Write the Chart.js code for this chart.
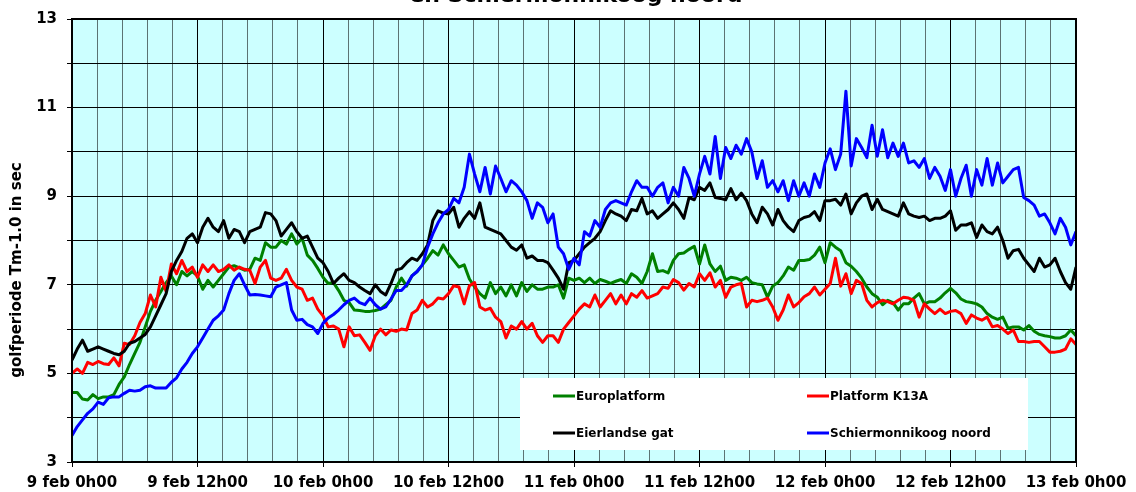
<!DOCTYPE html>
<html><head><meta charset="utf-8">
<script src="https://cdn.jsdelivr.net/npm/chart.js@4"></script>
<style>html,body{margin:0;padding:0;background:#fff;}canvas{display:block;}</style>
</head><body>
<canvas id="c" width="1136" height="492"></canvas>
<script>
// ---- data (half-hourly samples starting 9 feb 0h00) ----
const stepHours = 0.5;
const xTickLabels = ['9 feb 0h00','9 feb 12h00','10 feb 0h00','10 feb 12h00','11 feb 0h00','11 feb 12h00','12 feb 0h00','12 feb 12h00','13 feb 0h00'];
const yTickValues = [3,5,7,9,11,13];
const seriesNames = ['Europlatform','Platform K13A','Eierlandse gat','Schiermonnikoog noord'];
const seriesColors = ['#008000','#ff0000','#000000','#0000ff'];
const titleText = 'en Schiermonnikoog noord';
const yAxisTitle = 'golfperiode Tm-1.0 in sec';

const europlatform = [
 4.57,4.57,4.42,4.40,4.52,4.43,4.47,4.47,4.52,4.75,
 4.92,5.20,5.45,5.70,6.05,6.40,6.65,6.85,7.05,7.20,
 7.00,7.30,7.20,7.30,7.20,6.90,7.10,6.95,7.10,7.25,
 7.40,7.43,7.38,7.33,7.35,7.60,7.55,7.95,7.85,7.85,
 8.00,7.92,8.15,7.92,8.05,7.67,7.55,7.37,7.17,7.03,
 7.05,6.87,6.65,6.60,6.43,6.42,6.40,6.40,6.42,6.45,
 6.55,6.65,6.95,7.15,6.97,7.20,7.30,7.45,7.60,7.77,
 7.67,7.90,7.70,7.55,7.40,7.45,7.13,6.95,6.80,6.70,
 7.05,6.80,6.95,6.75,7.00,6.75,7.05,6.85,7.00,6.90,
 6.90,6.95,6.95,7.00,6.70,7.15,7.10,7.15,7.05,7.15,
 7.03,7.12,7.08,7.03,7.08,7.12,7.03,7.25,7.17,7.03,
 7.30,7.70,7.30,7.32,7.27,7.55,7.70,7.72,7.80,7.87,
 7.47,7.90,7.47,7.30,7.42,7.10,7.17,7.15,7.10,7.17,
 7.05,7.02,7.00,6.72,6.97,7.05,7.20,7.40,7.33,7.55,
 7.55,7.57,7.67,7.85,7.50,7.95,7.85,7.77,7.50,7.42,
 7.30,7.15,6.95,6.80,6.72,6.55,6.65,6.60,6.43,6.57,
 6.57,6.70,6.80,6.57,6.62,6.62,6.70,6.82,6.92,6.82,
 6.68,6.62,6.60,6.57,6.50,6.35,6.27,6.22,6.27,6.02,
 6.05,6.05,5.98,6.08,5.95,5.88,5.85,5.83,5.80,5.80,
 5.85,5.98,5.85];
const k13a = [
 5.00,5.10,5.00,5.25,5.20,5.27,5.22,5.20,5.35,5.17,
 5.68,5.65,5.85,6.15,6.35,6.77,6.50,7.17,6.85,7.47,
 7.25,7.55,7.30,7.40,7.17,7.45,7.30,7.45,7.30,7.35,
 7.45,7.33,7.40,7.35,7.33,7.03,7.40,7.55,7.15,7.10,
 7.15,7.35,7.10,6.95,6.90,6.65,6.70,6.45,6.30,6.05,
 6.07,6.00,5.60,6.05,5.85,5.87,5.70,5.52,5.85,6.00,
 5.87,5.98,5.95,6.00,5.98,6.35,6.43,6.65,6.50,6.57,
 6.70,6.68,6.80,6.98,6.95,6.57,6.98,7.05,6.50,6.43,
 6.47,6.27,6.17,5.80,6.07,6.00,6.17,6.00,6.13,5.85,
 5.70,5.85,5.85,5.70,6.00,6.15,6.30,6.45,6.57,6.50,
 6.77,6.50,6.65,6.80,6.57,6.77,6.57,6.80,6.72,6.87,
 6.70,6.75,6.80,6.95,6.92,7.12,7.05,6.88,7.03,6.95,
 7.25,7.10,7.27,6.95,7.10,6.72,6.95,7.00,7.03,6.50,
 6.65,6.62,6.65,6.70,6.50,6.20,6.43,6.77,6.50,6.60,
 6.73,6.80,6.95,6.77,6.90,7.03,7.60,6.97,7.25,6.80,
 7.10,7.03,6.65,6.50,6.60,6.65,6.62,6.57,6.65,6.72,
 6.70,6.65,6.27,6.57,6.45,6.35,6.45,6.35,6.40,6.42,
 6.35,6.13,6.32,6.25,6.20,6.27,6.05,6.08,6.00,5.90,
 5.98,5.72,5.72,5.70,5.72,5.72,5.60,5.48,5.48,5.50,
 5.55,5.78,5.65];
const eierlandseGat = [
 5.30,5.55,5.75,5.50,5.55,5.60,5.55,5.50,5.45,5.42,
 5.50,5.68,5.72,5.80,5.88,6.05,6.30,6.55,6.80,7.30,
 7.55,7.75,8.05,8.15,7.95,8.30,8.50,8.30,8.20,8.45,
 8.05,8.25,8.20,7.95,8.20,8.25,8.30,8.63,8.60,8.45,
 8.10,8.25,8.40,8.20,8.05,8.10,7.85,7.60,7.50,7.30,
 7.03,7.15,7.25,7.10,7.05,6.95,6.87,6.80,7.00,6.85,
 6.77,7.03,7.33,7.37,7.50,7.60,7.55,7.70,7.90,8.45,
 8.67,8.62,8.60,8.75,8.30,8.50,8.65,8.50,8.85,8.30,
 8.25,8.20,8.15,8.00,7.85,7.78,7.90,7.60,7.65,7.55,
 7.55,7.50,7.33,7.15,6.90,7.50,7.55,7.70,7.85,7.95,
 8.05,8.20,8.45,8.67,8.60,8.55,8.45,8.70,8.67,8.95,
 8.60,8.67,8.50,8.60,8.70,8.85,8.70,8.50,8.97,8.92,
 9.20,9.13,9.30,8.97,8.95,8.92,9.17,8.92,9.07,8.90,
 8.60,8.40,8.75,8.60,8.35,8.70,8.45,8.30,8.20,8.45,
 8.52,8.55,8.65,8.45,8.90,8.90,8.93,8.80,9.05,8.60,
 8.85,9.00,9.05,8.70,8.93,8.70,8.65,8.60,8.55,8.85,
 8.60,8.55,8.52,8.55,8.45,8.50,8.50,8.55,8.67,8.23,
 8.35,8.35,8.40,8.07,8.35,8.20,8.15,8.30,8.00,7.60,
 7.77,7.80,7.60,7.45,7.30,7.60,7.40,7.45,7.60,7.30,
 7.05,6.90,7.40];
const schiermonnikoog = [
 3.60,3.80,3.95,4.10,4.20,4.35,4.30,4.45,4.47,4.47,
 4.55,4.62,4.60,4.62,4.70,4.72,4.67,4.67,4.67,4.80,
 4.90,5.10,5.25,5.45,5.60,5.80,6.00,6.20,6.30,6.43,
 6.80,7.10,7.25,7.00,6.77,6.78,6.77,6.75,6.73,6.95,
 7.00,7.05,6.43,6.20,6.22,6.10,6.05,5.90,6.13,6.25,
 6.33,6.43,6.55,6.65,6.70,6.60,6.55,6.70,6.55,6.45,
 6.50,6.68,6.87,6.87,7.00,7.20,7.30,7.45,7.85,8.15,
 8.40,8.60,8.70,8.95,8.85,9.20,9.95,9.50,9.10,9.65,
 9.05,9.68,9.40,9.10,9.35,9.25,9.10,8.90,8.50,8.85,
 8.75,8.40,8.60,7.85,7.70,7.35,7.60,7.45,8.20,8.10,
 8.45,8.30,8.70,8.85,8.90,8.85,8.80,9.10,9.35,9.20,
 9.20,9.00,9.20,9.30,8.85,9.20,9.00,9.65,9.40,9.00,
 9.50,9.90,9.50,10.35,9.40,10.10,9.85,10.15,9.95,10.30,
 10.00,9.40,9.80,9.20,9.35,9.10,9.35,8.90,9.35,9.00,
 9.30,9.00,9.50,9.20,9.75,10.07,9.60,9.95,11.37,9.68,
 10.30,10.10,9.87,10.60,9.90,10.50,9.87,10.20,9.90,10.20,
 9.75,9.80,9.65,9.85,9.40,9.65,9.45,9.13,9.60,9.00,
 9.40,9.70,9.00,9.60,9.25,9.85,9.25,9.75,9.30,9.45,
 9.60,9.65,8.97,8.90,8.80,8.55,8.60,8.40,8.15,8.50,
 8.30,7.90,8.20];

const seriesData = [europlatform, k13a, eierlandseGat, schiermonnikoog];
const toPoints = arr => arr.map((v, i) => ({x: i * stepHours, y: v}));
const FONT = '"DejaVu Sans", Verdana, sans-serif';
const hoursMax = 96;
const minorStep = 2.4, majorStep = 12;
const isMajor = v => Math.abs(v / majorStep - Math.round(v / majorStep)) < 1e-6;

const decor = {
  id: 'decor',
  beforeDraw(chart) {
    const {ctx, chartArea: a} = chart;
    ctx.save();
    ctx.fillStyle = '#ccffff';
    ctx.fillRect(a.left, a.top, a.right - a.left, a.bottom - a.top);
    ctx.restore();
  },
  afterDatasetsDraw(chart) {
    const {ctx, chartArea: a} = chart;
    ctx.save();
    ctx.strokeStyle = '#000';
    ctx.lineWidth = 2;
    ctx.strokeRect(a.left, a.top, a.right - a.left, a.bottom - a.top);
    // legend box
    const bx = 520, by = 378, bw = 508, bh = 72;
    ctx.fillStyle = '#ffffff';
    ctx.fillRect(bx, by, bw, bh);
    const items = [[553, 396], [807, 396], [553, 433], [807, 433]];
    ctx.font = 'bold 12px ' + FONT;
    ctx.textBaseline = 'middle';
    ctx.textAlign = 'left';
    items.forEach(([lx, ly], i) => {
      ctx.strokeStyle = seriesColors[i];
      ctx.lineWidth = 3;
      ctx.beginPath(); ctx.moveTo(lx, ly); ctx.lineTo(lx + 22, ly); ctx.stroke();
      ctx.fillStyle = '#000';
      ctx.fillText(seriesNames[i], lx + 23, ly + 1);
    });
    ctx.restore();
  },
  afterDraw(chart) {
    const {ctx} = chart;
    ctx.save();
    ctx.fillStyle = '#000';
    ctx.font = 'bold 22px ' + FONT;
    ctx.textAlign = 'center';
    ctx.textBaseline = 'alphabetic';
    ctx.fillText(titleText, 576, 2);
    ctx.translate(17, 270);
    ctx.rotate(-Math.PI / 2);
    ctx.font = 'bold 15px ' + FONT;
    ctx.textBaseline = 'middle';
    ctx.fillText(yAxisTitle, 0, 0);
    ctx.restore();
  }
};

new Chart(document.getElementById('c'), {
  type: 'line',
  data: {
    datasets: seriesData.map((arr, i) => ({
      label: seriesNames[i],
      data: toPoints(arr),
      borderColor: seriesColors[i],
      backgroundColor: seriesColors[i],
      borderWidth: 3,
      pointRadius: 0,
      tension: 0,
      borderJoinStyle: 'round',
      order: seriesData.length - i
    }))
  },
  options: {
    responsive: false,
    animation: false,
    devicePixelRatio: 1,
    layout: {padding: {top: 18, right: 60, left: 0, bottom: 0}},
    plugins: {legend: {display: false}, tooltip: {enabled: false}, title: {display: false}},
    scales: {
      x: {
        type: 'linear', min: 0, max: hoursMax,
        afterBuildTicks(scale) {
          const t = [];
          for (let i = 0; i * minorStep <= hoursMax + 1e-6; i++) t.push({value: +(i * minorStep).toFixed(6)});
          scale.ticks = t;
        },
        afterFit(scale) { scale.height = 30; },
        ticks: {
          autoSkip: false, maxRotation: 0, minRotation: 0, padding: 7,
          color: '#000', font: {family: FONT, size: 15, weight: 'bold'},
          callback: v => isMajor(v) ? xTickLabels[Math.round(v / majorStep)] : ''
        },
        grid: {
          color: c => (c.tick && isMajor(c.tick.value)) ? '#000' : 'rgba(0,0,0,0.55)',
          tickColor: c => (c.tick && isMajor(c.tick.value)) ? '#000' : 'rgba(0,0,0,0)',
          lineWidth: 1, tickLength: 5
        },
        border: {color: '#000', width: 2}
      },
      y: {
        min: 3, max: 13,
        afterFit(scale) { scale.width = 72; },
        ticks: {
          stepSize: 1, padding: 10, color: '#000',
          font: {family: FONT, size: 15, weight: 'bold'},
          callback: v => yTickValues.includes(v) ? String(v) : ''
        },
        grid: {color: '#000', lineWidth: 1, tickLength: 5},
        border: {color: '#000', width: 2}
      }
    }
  },
  plugins: [decor]
});
</script>
</body></html>
